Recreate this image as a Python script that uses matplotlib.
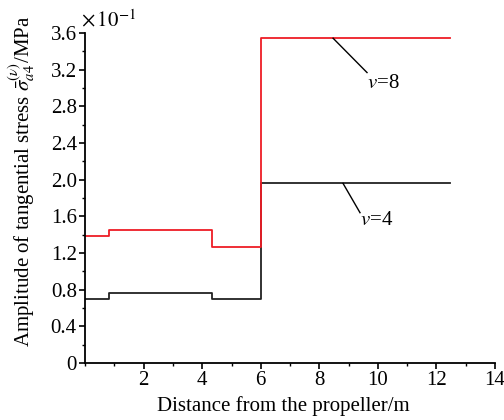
import numpy as np
import matplotlib
matplotlib.use("Agg")
import matplotlib.pyplot as plt
from matplotlib.ticker import MultipleLocator, FixedLocator

plt.rcParams['font.family'] = ['Liberation Serif', 'DejaVu Serif']
plt.rcParams['mathtext.fontset'] = 'stix'

# step edges (m) and amplitude levels (x 10^-1 MPa)
edges = [0, 0.8, 4.35, 6.0, 12.45]
amp_v4 = [0.70, 0.76, 0.70, 1.96]
amp_v8 = [1.385, 1.45, 1.265, 3.545]

x_ticks = [2, 4, 6, 8, 10, 12, 14]
y_ticks = [0, 0.4, 0.8, 1.2, 1.6, 2.0, 2.4, 2.8, 3.2, 3.6]
y_labels = ["0", "0.4", "0.8", "1.2", "1.6", "2.0", "2.4", "2.8", "3.2", "3.6"]


def step_xy(edges, vals):
    xs, ys = [], []
    for i, v in enumerate(vals):
        xs += [edges[i], edges[i+1]]
        ys += [v, v]
    return xs, ys


fig = plt.figure(figsize=(5.04, 4.2), dpi=100)
ax = fig.add_axes([0.169, 0.136, 0.813, 0.785])

x4, y4 = step_xy(edges, amp_v4)
x8, y8 = step_xy(edges, amp_v8)
ax.plot(x4, y4, color="#222222", lw=1.3)
ax.plot(x8, y8, color="#ee1c25", lw=1.3)

ax.set_xlim(0, 14)
ax.set_ylim(0, 3.6)
ax.spines['top'].set_visible(False)
ax.spines['right'].set_visible(False)
ax.spines['left'].set_linewidth(1.3)
ax.spines['bottom'].set_linewidth(1.3)

ax.xaxis.set_major_locator(FixedLocator(x_ticks))
ax.xaxis.set_minor_locator(MultipleLocator(1))
ax.yaxis.set_major_locator(FixedLocator(y_ticks))
ax.yaxis.set_minor_locator(MultipleLocator(0.2))
ax.set_yticklabels(y_labels)
ax.tick_params(which='major', length=4, width=1.2, labelsize=15, pad=2)
ax.tick_params(which='minor', length=2.5, width=1.0)

ax.set_xlabel("Distance from the propeller/m", fontsize=15)
ax.set_ylabel(r"Amplitude of tangential stress $\bar{\sigma}_{a4}^{(\nu)}$/MPa",
              fontsize=15)
ax.xaxis.set_label_coords(0.483, -0.1)
ax.yaxis.set_label_coords(-0.117, 0.55)
ax.text(-0.01, 1.005, r"$\times\,10^{-1}$", transform=ax.transAxes, fontsize=15,
        ha='left', va='bottom')

# label leader lines
ax.plot([8.47, 9.63], [amp_v8[3], 3.17], color='black', lw=1.0)
ax.text(10.17, 3.05, r"$\mathit{v}$=8", fontsize=15, ha='center', va='center')
ax.plot([8.81, 9.39], [amp_v4[3], 1.64], color='black', lw=1.0)
ax.text(9.97, 1.56, r"$\mathit{v}$=4", fontsize=15, ha='center', va='center')

fig.savefig("out.png", dpi=100)
